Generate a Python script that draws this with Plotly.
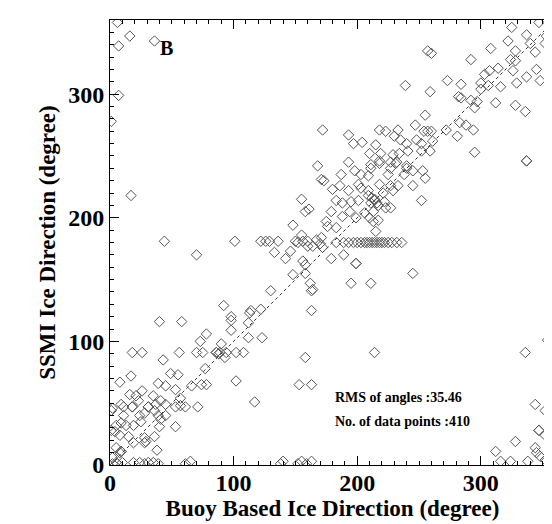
import plotly.graph_objects as go

buoy_dir = [
    6, 16, 7, 36, 7, 1,
    347, 325, 337, 353, 322, 340, 352, 308, 328, 344, 257, 260, 292, 324, 328, 314, 307, 303, 326, 345,
    337, 348, 329, 273, 284, 300, 306, 239, 316, 300, 259, 282, 284, 292, 297, 312, 295, 328, 336, 255,
    283, 288, 272, 294, 254, 260, 257, 247, 172, 218, 223, 233, 193, 197, 204, 215, 230, 235, 240, 248,
    252, 261, 281, 210, 219, 229, 234, 241, 252, 259, 193, 211, 218, 227, 232, 240, 295, 337, 337,
    168, 171, 17, 155, 158, 161, 148, 155, 44, 101, 122, 126, 129, 136, 150, 152, 156, 160, 167, 170,
    164, 160, 70, 133, 142, 146, 156, 158, 148, 158, 162, 163, 164, 130, 92, 114, 122, 163, 98,
    187, 198, 203, 209, 211, 218, 227, 225, 231, 240, 238, 245, 253, 255, 173, 180, 186, 193, 201, 203,
    209, 218, 227, 233, 245, 221, 229, 183, 188, 195, 201, 209, 211, 214, 217, 222, 223, 227, 252, 179,
    194, 188, 199, 206, 210, 213, 213, 217, 175, 176, 183, 215, 171, 214, 212, 216,
    183, 189, 193, 197, 200, 203, 206, 208, 210, 212, 214, 216, 218, 220, 222, 225, 228, 232, 236,
    172, 179, 189, 199, 199, 245, 195, 211,
    113, 40, 58, 98, 98, 112, 78, 73, 112, 123, 90, 18, 26, 56, 70, 75, 86, 86, 88, 89, 94, 102, 108,
    93, 43, 158, 49, 55, 77, 8, 17, 39, 45, 66, 74, 78, 102, 153, 163, 16, 21, 26, 23, 35, 53, 41, 57,
    37, 45, 53, 57, 117, 18, 18, 31, 31, 2, 9, 11, 24, 28, 36, 39, 41, 45, 61, 71, 11, 1, 9, 5, 13, 19,
    25, 40, 53, 4, 1, 8, 15, 28, 28, 29, 36, 19, 5, 9, 9, 8, 38, 2,
    5, 10, 19, 24, 31, 35, 65, 140, 155, 163, 2, 6, 28, 39, 61, 138, 152, 159,
    214, 336, 354, 344, 352, 347, 347, 352, 328, 312, 344, 345, 348, 352, 316, 324, 338,
]

ssmi_dir = [
    358, 347, 339, 343, 299, 278,
    358, 354, 348, 347, 343, 341, 341, 337, 335, 334, 335, 333, 328, 328, 327, 321, 319, 316, 319, 320,
    314, 311, 309, 311, 308, 309, 307, 307, 306, 304, 302, 298, 297, 295, 294, 293, 289, 291, 286, 283,
    277, 275, 271, 271, 270, 270, 270, 275, 271, 271, 270, 271, 267, 260, 261, 259, 266, 263, 260, 263,
    260, 262, 266, 252, 252, 251, 252, 254, 254, 254, 245, 243, 244, 245, 245, 242, 253, 246, 246,
    242, 231, 218, 215, 205, 207, 194, 186, 181, 181, 181, 181, 181, 181, 181, 180, 181, 181, 182, 179,
    177, 177, 170, 172, 167, 173, 165, 162, 154, 155, 147, 141, 142, 141, 129, 125, 126, 125, 120,
    235, 238, 235, 234, 240, 246, 240, 235, 244, 240, 235, 238, 238, 232, 230, 223, 226, 222, 227, 224,
    222, 227, 226, 226, 226, 220, 222, 214, 212, 213, 214, 218, 212, 214, 210, 213, 208, 208, 214, 205,
    205, 201, 200, 204, 200, 205, 197, 198, 197, 193, 192, 189, 184, 215, 216, 212,
    180, 180, 180, 180, 180, 180, 180, 180, 180, 180, 180, 180, 180, 180, 180, 180, 180, 180, 180,
    176, 167, 170, 163, 163, 155, 147, 147,
    123, 116, 116, 117, 109, 115, 106, 100, 103, 103, 98, 91, 91, 91, 91, 91, 91, 91, 90, 91, 91, 91, 91,
    87, 85, 87, 74, 73, 78, 67, 72, 66, 64, 64, 65, 65, 68, 65, 65, 57, 56, 60, 52, 56, 61, 52, 54,
    49, 49, 47, 48, 51, 47, 47, 47, 47, 46, 49, 47, 40, 42, 44, 40, 37, 40, 47, 47, 40, 44, 34, 32, 32, 32,
    35, 31, 31, 27, 28, 24, 23, 22, 18, 19, 23, 18, 14, 11, 11, 10, 12, 6,
    2, 2, 2, 2, 2, 2, 3, 3, 3, 3, 1, 1, 1, 1, 1, 1, 1, 1,
    91, 91, 101, 49, 44, 28, 28, 24, 19, 11, 14, 10, 7, 4, 3, 3, 3,
]

diag_line = [0, 360]
axis_range = [0, 360]
tick_values = [0, 100, 200, 300]
tick_labels = ["0", "100", "200", "300"]
panel_label = "B"
stats_lines = ["RMS of angles :35.46", "No. of data points :410"]
x_title = "Buoy Based Ice Direction (degree)"
y_title = "SSMI Ice Direction (degree)"

serif = "Liberation Serif"

fig = go.Figure()
fig.add_trace(go.Scatter(
    x=diag_line, y=diag_line, mode="lines",
    line=dict(color="#333", width=1, dash="dot"),
    hoverinfo="skip", showlegend=False,
))
fig.add_trace(go.Scatter(
    x=buoy_dir, y=ssmi_dir, mode="markers",
    marker=dict(symbol="diamond-open", size=8, color="#555", line=dict(width=1, color="#555")),
    showlegend=False, cliponaxis=True,
))

axis_common = dict(
    range=axis_range, tickvals=tick_values, ticktext=tick_labels,
    ticks="inside", ticklen=9, tickwidth=1, tickcolor="black",
    minor=dict(ticks="inside", ticklen=4, dtick=10, tickcolor="black", showgrid=False),
    showline=True, linecolor="black", linewidth=1, mirror="ticks",
    showgrid=False, zeroline=False,
    tickfont=dict(family=serif, size=24, color="black", weight="bold"),
)

fig.update_layout(
    width=552, height=524, autosize=False,
    margin=dict(l=102, r=5, t=12, b=67),
    paper_bgcolor="white", plot_bgcolor="white",
    xaxis=dict(**axis_common, ticklabelstandoff=-4,
               title=dict(text=x_title, standoff=0,
                          font=dict(family=serif, size=23, color="black", weight="bold"))),
    yaxis=dict(**axis_common,
               title=dict(text=y_title, standoff=6,
                          font=dict(family=serif, size=23, color="black", weight="bold"))),
    annotations=[
        dict(x=46, y=337, xref="x", yref="y", text=panel_label, showarrow=False,
             font=dict(family=serif, size=20, color="black", weight="bold")),
        dict(x=180, y=55, xref="x", yref="y", text=stats_lines[0], showarrow=False, xanchor="left",
             font=dict(family=serif, size=14, color="black", weight="bold")),
        dict(x=180, y=35, xref="x", yref="y", text=stats_lines[1], showarrow=False, xanchor="left",
             font=dict(family=serif, size=14, color="black", weight="bold")),
    ],
)

fig.write_html("out.html")
